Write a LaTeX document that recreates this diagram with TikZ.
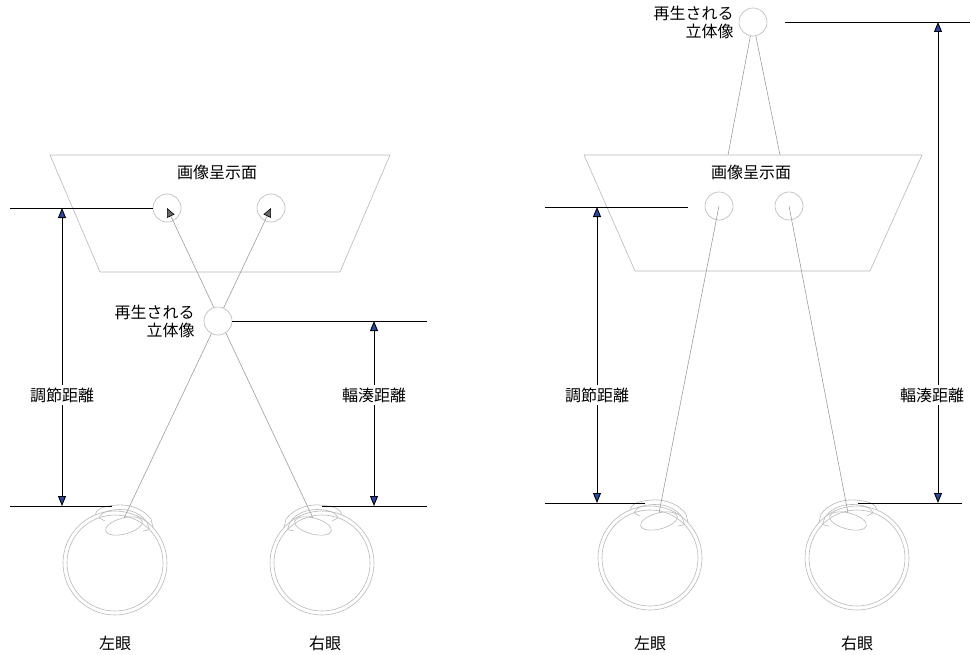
\documentclass[tikz,border=0pt]{standalone}
\usepackage{fontspec}
\newfontfamily\cjk{Noto Sans CJK JP}
\usetikzlibrary{arrows.meta}
\definecolor{dimblue}{RGB}{38,72,172}
\tikzset{
  thinline/.style={draw=black!28,line width=0.6pt},
  ray/.style={draw=black!38,line width=0.6pt},
  imgdot/.style={circle,draw=black!28,line width=0.6pt,minimum size=28pt,inner sep=0pt},
  dimline/.style={draw=black,line width=0.9pt},
  dimarrow/.style={dimline,{Triangle[length=10pt,width=8pt,fill=dimblue]}-{Triangle[length=10pt,width=8pt,fill=dimblue]}},
  tip/.style={-{Triangle[length=9pt,width=8pt,color=black,fill=black!60]}},
  lab/.style={font=\cjk\fontsize{16}{18}\selectfont,inner sep=1pt},
  % eyeball, cornea to the upper right
  eye/.pic={
    \draw[thinline] (0,0) circle (52) (0,0) circle (48);
    \draw[thinline] (-20,-48) .. controls (-19,-54) and (-12,-57) .. (2,-58)
        .. controls (18,-59) and (30,-52) .. (36,-44) -- (38,-35.5);
    \draw[thinline] (-16,-45.2) .. controls (-14,-51) and (-6,-53) .. (4,-53.5)
        .. controls (17,-54) and (27,-48) .. (32,-41) -- (34.5,-33.4);
    \draw[thinline] (9,-37) ellipse [x radius=19, y radius=8, rotate=15];
    \draw[thinline] (-10,-42) -- (-16,-45.2) (28,-32) -- (34.5,-33.4);
    \coordinate (-lens) at (9,-45);
  }
}
\begin{document}
\begin{tikzpicture}[x=1pt,y=-1pt]
  \useasboundingbox (0,0) rectangle (971,655);
  % display surfaces
  \draw[thinline] (50,155) -- (390,155) -- (340,272) -- (100,272) -- cycle;
  \draw[thinline] (584,155) -- (922,155) -- (870,271) -- (635,271) -- cycle;
  \node[lab] (planeA) at (217,172) {画像呈示面};
  \node[lab] (planeB) at (751,172) {画像呈示面};
  % eyes
  \pic (LEa) at (115,563) {eye};
  \pic[xscale=-1] (REa) at (322,563) {eye};
  \pic (LEb) at (650,558) {eye};
  \pic[xscale=-1] (REb) at (857,558) {eye};
  \foreach \x/\t [count=\i] in {115/左眼,325/右眼,650/左眼,857/右眼}
    \node[lab] (eyelab\i) at (\x,643) {\t};

  % crossed view: image in front of the surface
  \node[imgdot] (imgLa) at (167,208) {};
  \node[imgdot] (imgRa) at (271,208) {};
  \draw[ray,tip] (LEa-lens) -- (imgRa.center);
  \draw[ray,tip] (REa-lens) -- (imgLa.center);
  \node[imgdot,fill=white] (fusA) at (218,321) {};
  \node[lab,anchor=east,align=right,xshift=-8pt] (fusAtxt) at (fusA.west) {再生される\\立体像};

  % uncrossed view: image behind the surface
  \node[imgdot] (imgLb) at (719,206) {};
  \node[imgdot] (imgRb) at (789,206) {};
  \draw[ray] (LEb-lens) -- (imgLb.center);
  \draw[ray] (REb-lens) -- (imgRb.center);
  \node[imgdot] (fusB) at (753,22) {};
  \coordinate (rayBl) at (728,155);
  \coordinate (rayBr) at (780,155);
  \draw[ray] (fusB) -- (rayBl);
  \draw[ray] (fusB) -- (rayBr);
  \node[lab,anchor=east,align=right,xshift=-4pt] (fusBtxt) at (fusB.west) {再生される\\立体像};

  % distances, left
  \coordinate (accAl) at (10,208);
  \coordinate (accAt) at (62,208);
  \coordinate (accAb) at (62,506);
  \coordinate (eyeAl) at (10,506);
  \coordinate (eyeAm) at (112,506);
  \draw[dimline] (accAl) -- (imgLa.west);
  \draw[dimline] (eyeAl) -- (eyeAm);
  \draw[dimarrow] (accAt) -- (accAb);
  \node[lab,fill=white,inner sep=3pt] (accAtxt) at (62,395) {調節距離};
  \coordinate (vrgAr) at (427,321);
  \coordinate (vrgAt) at (374,321);
  \coordinate (vrgAb) at (374,506);
  \coordinate (eyeAn) at (322,506);
  \coordinate (eyeAr) at (427,506);
  \draw[dimline] (fusA.east) -- (vrgAr);
  \draw[dimline] (eyeAn) -- (eyeAr);
  \draw[dimarrow] (vrgAt) -- (vrgAb);
  \node[lab,fill=white,inner sep=3pt] (vrgAtxt) at (374,395) {輻湊距離};

  % distances, right
  \coordinate (accBl) at (545,207);
  \coordinate (accBr) at (688,207);
  \coordinate (accBt) at (597,207);
  \coordinate (accBb) at (597,503);
  \coordinate (eyeBl) at (545,503);
  \coordinate (eyeBm) at (645,503);
  \draw[dimline] (accBl) -- (accBr);
  \draw[dimline] (eyeBl) -- (eyeBm);
  \draw[dimarrow] (accBt) -- (accBb);
  \node[lab,fill=white,inner sep=3pt] (accBtxt) at (597,395) {調節距離};
  \coordinate (vrgBl) at (785,22);
  \coordinate (vrgBr) at (970,22);
  \coordinate (vrgBt) at (938,22);
  \coordinate (vrgBb) at (938,503);
  \coordinate (eyeBn) at (858,503);
  \coordinate (eyeBr) at (962,503);
  \draw[dimline] (vrgBl) -- (vrgBr);
  \draw[dimline] (eyeBn) -- (eyeBr);
  \draw[dimarrow] (vrgBt) -- (vrgBb);
  \node[lab,fill=white,inner sep=3pt] (vrgBtxt) at (932,395) {輻湊距離};
\end{tikzpicture}
\end{document}
